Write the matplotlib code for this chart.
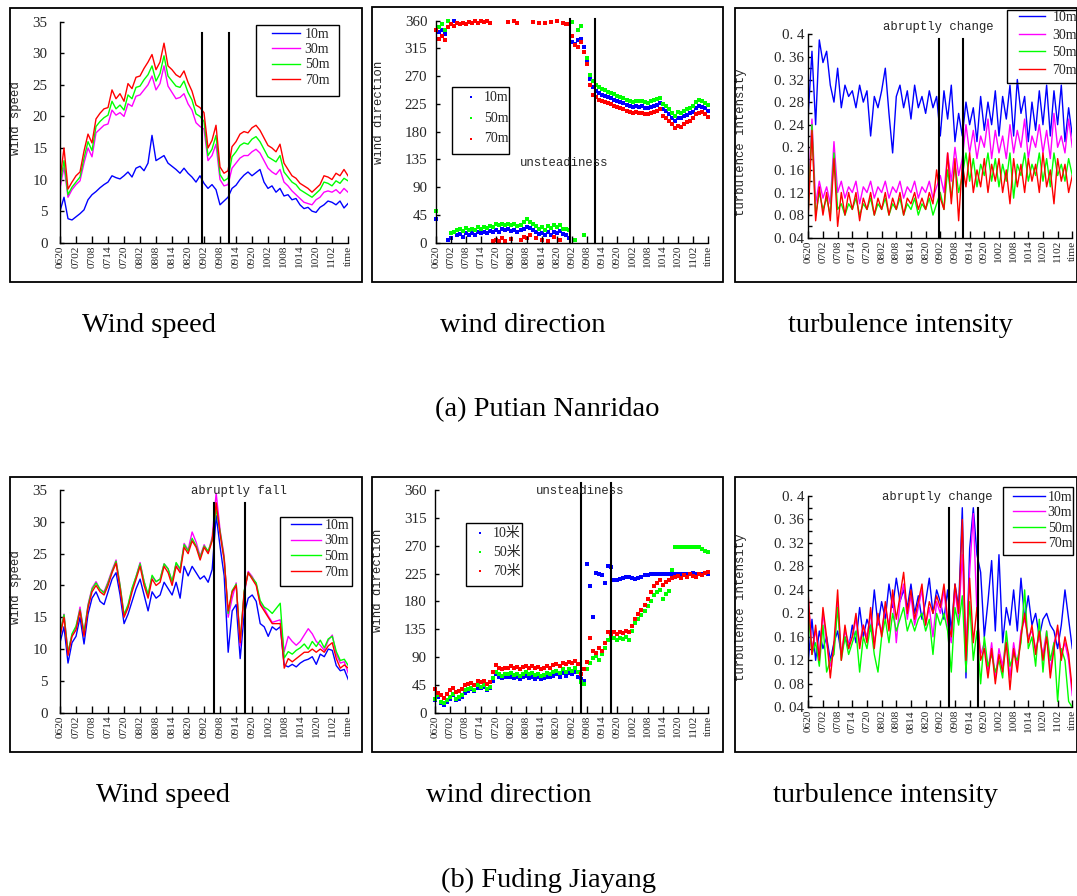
import numpy as np
import matplotlib.pyplot as plt
from matplotlib.patches import Rectangle
from matplotlib.font_manager import FontProperties

W, H = 1077, 896
SERIF = 'Liberation Serif'
MONO = 'Liberation Mono'
INK = '#262626'
C10, C30, C50, C70 = '#0000ff', '#ff00ff', '#00ff00', '#ff0000'

dates = ['0620', '0702', '0708', '0714', '0720', '0802', '0808', '0814', '0820',
         '0902', '0908', '0914', '0920', '1002', '1008', '1014', '1020', '1102', 'time']
heights4 = ['10m', '30m', '50m', '70m']
heights3_a = ['10m', '50m', '70m']
heights3_b = ['10米', '50米', '70米']

# ---- (a) Putian Nanridao ----
ws_a_10 = [5.0, 7.2, 3.8, 3.6, 4.1, 4.6, 5.2, 6.8, 7.6, 8.1,
           8.7, 9.2, 9.6, 10.6, 10.3, 10.1, 10.6, 11.2, 10.4, 11.8,
           12.1, 11.4, 12.6, 17.0, 13.0, 13.4, 13.8, 12.6, 12.1, 11.6,
           11.0, 11.8, 11.0, 10.4, 9.6, 10.6, 9.4, 8.6, 9.2, 8.4,
           6.0, 6.6, 7.2, 8.6, 9.1, 10.0, 10.7, 11.2, 10.6, 11.1,
           11.6, 9.6, 8.6, 9.0, 8.0, 8.6, 7.4, 7.6, 6.8, 7.0,
           6.0, 5.4, 5.6, 5.0, 4.8, 5.6, 6.0, 6.6, 6.4, 6.0,
           6.6, 5.5, 6.2]
ws_a_30 = [8.6, 12.0, 7.2, 8.4, 9.2, 9.8, 12.6, 15.0, 13.6, 17.4,
           18.0, 18.6, 18.8, 21.0, 20.2, 20.6, 20.0, 22.0, 21.6, 23.2,
           23.4, 24.2, 25.0, 26.4, 24.2, 25.2, 28.0, 24.8, 23.8, 22.8,
           23.0, 23.6, 22.0, 21.0, 19.0, 18.4, 18.0, 13.0, 13.8, 15.6,
           10.0, 9.0, 9.2, 11.8, 12.6, 13.4, 13.8, 13.8, 14.4, 14.8,
           14.2, 13.0, 11.8, 11.2, 10.8, 11.6, 9.6, 9.0, 8.2, 7.6,
           7.0, 6.4, 6.2, 6.0, 6.8, 7.2, 8.0, 8.2, 8.0, 8.4,
           7.8, 8.6, 8.0]
ws_a_50 = [9.2, 13.0, 7.6, 8.8, 9.6, 10.4, 13.4, 16.0, 14.6, 18.4,
           19.2, 19.8, 20.2, 22.4, 21.2, 21.8, 21.0, 23.4, 22.8, 24.6,
           24.8, 25.8, 26.6, 28.0, 25.6, 26.8, 29.6, 26.4, 25.6, 24.8,
           24.6, 25.6, 23.8, 22.6, 20.4, 20.0, 19.2, 13.8, 14.8, 17.0,
           10.8, 9.8, 10.2, 13.6, 14.4, 15.4, 15.8, 15.6, 16.4, 16.8,
           16.0, 14.8, 13.6, 13.2, 12.8, 13.8, 11.2, 10.4, 9.6, 9.2,
           8.4, 8.0, 7.6, 7.2, 7.8, 8.4, 9.6, 9.4, 9.0, 9.8,
           9.4, 10.2, 9.8]
ws_a_70 = [10.0, 15.0, 8.5, 9.6, 10.6, 11.2, 14.5, 17.2, 15.8, 19.6,
           20.5, 21.2, 21.4, 24.2, 22.8, 23.6, 22.4, 25.2, 24.4, 26.2,
           26.4, 27.6, 28.6, 29.8, 27.4, 28.6, 31.6, 28.0, 27.4, 26.6,
           26.2, 27.2, 25.4, 24.0, 21.8, 21.4, 20.6, 15.0, 16.2, 18.6,
           12.0, 11.0, 11.4, 15.2, 16.0, 17.2, 17.6, 17.4, 18.2, 18.6,
           17.8, 16.6, 15.4, 15.0, 14.4, 15.6, 12.6, 11.6, 10.6, 10.2,
           9.4, 9.0, 8.6, 8.0, 8.6, 9.2, 10.6, 10.4, 10.0, 11.0,
           10.6, 11.6, 10.6]

wd_a_10 = [38, 342, 345, 338, 5, 8, 360, 12, 14, 10,
           15, 13, 16, 12, 17, 15, 18, 16, 19, 17,
           21, 18, 23, 20, 22, 19, 21, 17, 20, 23,
           26, 24, 20, 18, 14, 16, 12, 17, 13, 18,
           15, 19, 14, 12, 8, 325, 322, 328, 330, 318,
           295, 265, 252, 246, 242, 240, 238, 236, 234, 232,
           230, 228, 226, 224, 222, 220, 222, 220, 221, 219,
           218, 220, 222, 224, 226, 216, 214, 208, 202, 198,
           203, 202, 205, 207, 210, 212, 218, 222, 220, 218,
           214]
wd_a_50 = [52, 350, 355, 345, 360, 15, 18, 20, 22, 19,
           24, 21, 23, 20, 25, 22, 26, 24, 27, 25,
           30, 28, 31, 29, 30, 28, 30, 27, 29, 34,
           38, 33, 30, 27, 23, 26, 21, 27, 24, 28,
           26, 29, 23, 22, 20, 358, 4, 345, 352, 12,
           300, 272, 262, 256, 252, 250, 247, 245, 243, 241,
           238, 236, 234, 232, 230, 228, 230, 229, 230, 228,
           227, 229, 231, 233, 235, 225, 222, 216, 210, 206,
           212, 211, 214, 216, 218, 222, 228, 231, 229, 227,
           224]
wd_a_70 = [345, 330, 335, 328, 350, 355, 352, 356, 354, 357,
           355, 358, 356, 359, 357, 360, 358, 359, 357, 3,
           5, 2, 8, 3, 358, 6, 359, 357, 4, 10,
           7, 12, 358, 8, 356, 5, 357, 2, 358, 9,
           359, 4, 357, 355, 354, 335, 320, 318, 325, 310,
           290, 255, 240, 236, 232, 230, 228, 226, 225, 222,
           220, 218, 216, 214, 212, 210, 212, 210, 211, 209,
           208, 210, 212, 214, 216, 205, 203, 198, 192, 186,
           190, 188, 192, 195, 198, 202, 208, 210, 212, 208,
           204]

ti_a_10 = [0.26, 0.37, 0.24, 0.39, 0.35, 0.37, 0.31, 0.28, 0.34, 0.27,
           0.31, 0.29, 0.30, 0.27, 0.31, 0.28, 0.30, 0.22, 0.29, 0.27,
           0.30, 0.34, 0.26, 0.19, 0.29, 0.31, 0.27, 0.30, 0.25, 0.31,
           0.27, 0.29, 0.26, 0.30, 0.27, 0.29, 0.22, 0.30, 0.25, 0.31,
           0.21, 0.26, 0.22, 0.28, 0.24, 0.27, 0.21, 0.29, 0.23, 0.28,
           0.24, 0.30, 0.22, 0.29, 0.25, 0.31, 0.22, 0.32, 0.26, 0.29,
           0.21, 0.28, 0.23, 0.30, 0.24, 0.31, 0.22, 0.30, 0.24, 0.31,
           0.21, 0.27, 0.22]
ti_a_30 = [0.12, 0.25, 0.10, 0.14, 0.11, 0.13, 0.10, 0.21, 0.12, 0.14,
           0.11, 0.13, 0.12, 0.14, 0.10, 0.13, 0.12, 0.14, 0.11, 0.13,
           0.12, 0.14, 0.11, 0.13, 0.12, 0.14, 0.11, 0.13, 0.12, 0.14,
           0.11, 0.13, 0.12, 0.14, 0.11, 0.13, 0.15, 0.12, 0.19, 0.14,
           0.20, 0.15, 0.18, 0.24, 0.19, 0.23, 0.18, 0.22, 0.20, 0.25,
           0.18, 0.23, 0.19, 0.22, 0.18, 0.24, 0.19, 0.23, 0.20, 0.25,
           0.18, 0.22, 0.20, 0.24, 0.19, 0.23, 0.18, 0.26, 0.20, 0.22,
           0.19, 0.25, 0.20]
ti_a_50 = [0.09, 0.24, 0.08, 0.12, 0.09, 0.11, 0.08, 0.19, 0.09, 0.10,
           0.08, 0.10, 0.09, 0.11, 0.08, 0.10, 0.09, 0.11, 0.08, 0.10,
           0.09, 0.11, 0.08, 0.10, 0.09, 0.11, 0.08, 0.10, 0.09, 0.11,
           0.08, 0.10, 0.09, 0.11, 0.08, 0.10, 0.12, 0.09, 0.16, 0.11,
           0.17, 0.12, 0.15, 0.19, 0.14, 0.18, 0.13, 0.17, 0.15, 0.19,
           0.14, 0.18, 0.13, 0.17, 0.14, 0.19, 0.11, 0.17, 0.15, 0.19,
           0.14, 0.17, 0.15, 0.19, 0.14, 0.18, 0.13, 0.19, 0.15, 0.17,
           0.14, 0.18, 0.15]
ti_a_70 = [0.08, 0.23, 0.07, 0.13, 0.08, 0.12, 0.07, 0.18, 0.06, 0.12,
           0.08, 0.12, 0.09, 0.12, 0.07, 0.11, 0.09, 0.12, 0.08, 0.11,
           0.09, 0.12, 0.08, 0.11, 0.09, 0.12, 0.08, 0.11, 0.10, 0.12,
           0.09, 0.11, 0.09, 0.12, 0.10, 0.16, 0.11, 0.09, 0.19, 0.10,
           0.18, 0.07, 0.17, 0.13, 0.19, 0.12, 0.16, 0.13, 0.18, 0.12,
           0.17, 0.14, 0.18, 0.12, 0.16, 0.10, 0.18, 0.13, 0.17, 0.12,
           0.18, 0.14, 0.17, 0.12, 0.19, 0.13, 0.16, 0.10, 0.18, 0.14,
           0.17, 0.12, 0.15]

# ---- (b) Fuding Jiayang ----
ws_b_10 = [11, 13.5, 7.8, 11, 12, 15, 10.8, 15.5, 18, 19,
           17.5, 17, 19, 21, 22, 18.5, 14, 15.5, 17.5, 19.5,
           21, 18.5, 16, 19, 18, 18.5, 20.5, 19.5, 18.5, 20.5,
           18, 23, 21.5, 23, 22, 21, 21.5, 20.5, 22.5, 31,
           26, 21.5, 9.5, 16, 17, 8.5, 15.5, 18, 18.5, 17.5,
           14, 13.5, 12, 13.5, 13, 13.5, 7.5, 7.2, 7.6, 7.2,
           7.8, 8.2, 8.4, 8.8, 7.6, 9.2, 8.8, 10, 9.8, 7.4,
           6.6, 6.8, 5.2]
ws_b_30 = [12, 15.5, 9.5, 12.2, 13.4, 16.6, 12.4, 17, 19.6, 20.6,
           19.4, 19, 20.6, 22.4, 24, 20, 15.2, 16.8, 19.4, 21.4,
           23.6, 20.6, 18.4, 21.4, 20.6, 21, 23.4, 22.6, 20.6, 23.4,
           22.4, 26.6, 25.6, 28.4, 26.8, 24.6, 26.4, 25.2, 27.6, 34.5,
           28.6, 24.6, 15, 18, 20.4, 10.5, 18.6, 22.2, 21.4, 20.2,
           17.2, 16.4, 15.2, 14.2, 14.4, 14.6, 9.6, 12, 11.2, 10.6,
           11.2, 12.2, 13.2, 12.4, 11.2, 10.6, 9.8, 11.4, 12.2, 9.2,
           7.8, 8, 6.2]
ws_b_50 = [12.4, 15.4, 9.4, 12.4, 13.6, 16.2, 12.6, 16.8, 19.4, 20.4,
           19.4, 18.8, 20.4, 22.2, 23.8, 20, 15.4, 17, 19.6, 21.4,
           23.4, 20.6, 18.6, 21.6, 20.6, 21, 23.4, 22.6, 20.6, 23.6,
           22.6, 26.4, 25.4, 27.4, 26.2, 24.4, 26.2, 25.4, 27.2, 32,
           28.4, 24.2, 15.6, 19.2, 20.2, 11.2, 19.2, 22, 21.2, 20.4,
           17.6, 16.6, 16.2, 15.6, 16.4, 17.2, 8.6, 9.6, 9.2, 9.8,
           10.2, 10.8, 10, 11.2, 10.4, 11.4, 10.2, 11.6, 12, 9.6,
           8.2, 8.4, 7.4]
ws_b_70 = [12, 15, 9, 12, 13, 16, 12, 16.5, 19, 20,
           19, 18.5, 20, 22, 23.5, 19.5, 15, 16.5, 19, 21,
           23, 20, 18, 21, 20, 20.5, 23, 22, 20, 23,
           22, 26, 25, 27, 26, 24, 26, 25, 27, 33,
           28, 24, 16, 19, 20, 11, 19, 22, 21, 20,
           17, 16, 15, 14, 14, 14, 7, 8.5, 8, 8.5,
           9, 9.5, 9.5, 10, 9.5, 10, 9.5, 10.5, 11, 8.5,
           7, 7.5, 7]

wd_b_10 = [20, 25, 15, 12, 18, 22, 28, 20, 22, 25,
           32, 35, 38, 35, 40, 40, 42, 36, 40, 52,
           62, 58, 56, 58, 57, 58, 56, 58, 55, 57,
           59, 56, 58, 55, 57, 54, 56, 58, 57, 60,
           62, 58, 64, 60, 64, 62, 66, 58, 55, 52,
           240, 205, 155, 226, 225, 222, 210, 237, 236, 215,
           214, 216, 217, 219, 220, 218, 216, 218, 220, 222,
           223, 224, 225, 224, 225, 224, 225, 224, 225, 224,
           225, 224, 225, 224, 225, 226, 225, 224, 225, 226,
           225]
wd_b_50 = [22, 28, 18, 15, 20, 25, 30, 22, 25, 28,
           36, 38, 40, 37, 44, 42, 44, 38, 42, 56,
           66, 62, 60, 63, 62, 64, 61, 63, 60, 63,
           65, 62, 64, 61, 63, 59, 61, 64, 62, 66,
           68, 64, 70, 66, 70, 68, 72, 66, 50, 46,
           70, 80, 88, 92, 85, 95, 105, 118, 122, 120,
           118, 121, 119, 122, 118, 132, 145, 152, 158, 165,
           172, 180, 190, 195, 198, 184, 192, 196, 230, 268,
           268, 268, 268, 268, 268, 268, 268, 268, 265, 262,
           260]
wd_b_70 = [38, 32, 28, 24, 30, 36, 40, 33, 35, 38,
           44, 46, 48, 45, 52, 50, 52, 47, 50, 66,
           77, 72, 70, 73, 72, 75, 72, 74, 71, 74,
           76, 73, 75, 72, 74, 70, 72, 75, 73, 77,
           79, 76, 80, 78, 82, 80, 84, 78, 62, 70,
           82, 120, 100, 96, 104, 100, 112, 130, 128, 130,
           128, 131, 129, 132, 130, 140, 152, 160, 166, 174,
           184, 195, 205, 210, 214, 206, 212, 215, 218, 219,
           221, 218, 222, 220, 224, 221, 219, 224, 222, 226,
           228]

ti_b_10 = [0.12, 0.19, 0.12, 0.17, 0.14, 0.16, 0.12, 0.15, 0.17, 0.13,
           0.16, 0.14, 0.18, 0.15, 0.21, 0.16, 0.19, 0.17, 0.24, 0.18,
           0.22, 0.19, 0.25, 0.21, 0.26, 0.22, 0.24, 0.21, 0.25, 0.20,
           0.23, 0.19, 0.22, 0.26, 0.20, 0.24, 0.22, 0.19, 0.24, 0.17,
           0.25, 0.21, 0.38, 0.09, 0.31, 0.38, 0.30, 0.27, 0.16, 0.22,
           0.29, 0.17, 0.30, 0.15, 0.21, 0.18, 0.24, 0.17, 0.26, 0.19,
           0.23, 0.18, 0.20, 0.16, 0.19, 0.20, 0.18, 0.17, 0.14, 0.18,
           0.24, 0.19, 0.14]
ti_b_30 = [0.22, 0.14, 0.17, 0.13, 0.20, 0.15, 0.11, 0.14, 0.22, 0.13,
           0.17, 0.15, 0.16, 0.19, 0.15, 0.18, 0.16, 0.20, 0.15, 0.19,
           0.17, 0.21, 0.18, 0.23, 0.15, 0.22, 0.25, 0.19, 0.23, 0.18,
           0.21, 0.24, 0.18, 0.21, 0.16, 0.22, 0.20, 0.24, 0.18, 0.15,
           0.24, 0.19, 0.30, 0.13, 0.27, 0.37, 0.20, 0.13, 0.15, 0.10,
           0.15, 0.09, 0.14, 0.11, 0.16, 0.09, 0.15, 0.11, 0.17, 0.19,
           0.16, 0.17, 0.14, 0.16, 0.13, 0.17, 0.10, 0.15, 0.17, 0.13,
           0.15, 0.12, 0.06]
ti_b_50 = [0.20, 0.13, 0.15, 0.11, 0.18, 0.10, 0.12, 0.13, 0.21, 0.12,
           0.16, 0.13, 0.15, 0.17, 0.10, 0.16, 0.14, 0.18, 0.13, 0.10,
           0.16, 0.19, 0.15, 0.20, 0.17, 0.19, 0.21, 0.17, 0.19, 0.17,
           0.19, 0.20, 0.17, 0.19, 0.13, 0.20, 0.18, 0.20, 0.17, 0.10,
           0.21, 0.18, 0.23, 0.10, 0.22, 0.12, 0.17, 0.08, 0.16, 0.11,
           0.13, 0.10, 0.12, 0.09, 0.17, 0.11, 0.13, 0.12, 0.15, 0.24,
           0.14, 0.16, 0.11, 0.19, 0.10, 0.17, 0.12, 0.15, 0.05, 0.14,
           0.12, 0.05, 0.04]
ti_b_70 = [0.23, 0.13, 0.18, 0.12, 0.21, 0.16, 0.09, 0.15, 0.24, 0.12,
           0.18, 0.14, 0.16, 0.20, 0.14, 0.18, 0.15, 0.21, 0.14, 0.20,
           0.16, 0.22, 0.17, 0.24, 0.19, 0.23, 0.27, 0.20, 0.24, 0.19,
           0.22, 0.25, 0.18, 0.22, 0.20, 0.23, 0.21, 0.25, 0.19, 0.16,
           0.25, 0.20, 0.36, 0.12, 0.26, 0.15, 0.21, 0.12, 0.14, 0.09,
           0.14, 0.08, 0.13, 0.10, 0.15, 0.07, 0.14, 0.10, 0.16, 0.20,
           0.15, 0.18, 0.13, 0.17, 0.12, 0.16, 0.09, 0.14, 0.18, 0.12,
           0.16, 0.13, 0.07]

# dates (in tick units) where the regime changes
events_a = [8.9, 10.55]
events_b = [9.62, 11.57]

x73 = np.linspace(0, 18, 73)
x91 = np.linspace(0, 18, 91)


def fx(px):
    return px / W


def fy(py):
    return 1 - py / H


fig = plt.figure(figsize=(W / 100, H / 100), dpi=100)


def frame(x0, y0, x1, y1, lw=1.3):
    fig.add_artist(Rectangle((fx(x0), fy(y1)), (x1 - x0) / W, (y1 - y0) / H,
                             transform=fig.transFigure, fill=False,
                             ec='black', lw=lw))


def panel(l, t, r, b, ylim, yticks, ylabels, ylabel, lab_xy, ypad, minor=None):
    ax = fig.add_axes([fx(l), fy(b), (r - l) / W, (b - t) / H])
    ax.patch.set_alpha(0)
    for s in ('top', 'right'):
        ax.spines[s].set_visible(False)
    for s in ('left', 'bottom'):
        ax.spines[s].set_linewidth(1.0)
    ax.set_xlim(0, 18)
    ax.set_ylim(*ylim)
    ax.set_xticks(range(len(dates)))
    ax.set_xticklabels(dates, rotation=90, fontsize=8.2, family=SERIF, color=INK)
    ax.set_yticks(yticks)
    ax.set_yticklabels(ylabels, fontsize=10.8, family=SERIF, color=INK)
    if minor is not None:
        ax.set_yticks(minor, minor=True)
    ax.tick_params(axis='x', direction='in', length=5, width=1, pad=2)
    ax.tick_params(axis='y', which='both', direction='in', length=3, width=1, pad=ypad)
    ax.set_ylabel(ylabel, family=MONO, fontsize=8.8, color=INK)
    ax.yaxis.set_label_coords(*lab_xy)
    return ax


def legend_at(ax, handles, labels, x, y, spacing, hlen, tpad, size=10, mscale=1.0):
    leg = ax.legend(handles, labels, loc='upper left',
                    bbox_to_anchor=(fx(x), fy(y)), bbox_transform=fig.transFigure,
                    frameon=False, borderpad=0, borderaxespad=0,
                    labelspacing=spacing, handlelength=hlen, handletextpad=tpad,
                    scatterpoints=1, markerscale=mscale,
                    prop=FontProperties(family=[SERIF, 'Noto Sans CJK SC'], size=size))
    for t in leg.get_texts():
        t.set_color(INK)
    return leg


def events(ax, xs, y0, y1):
    for xe in xs:
        ax.plot([xe, xe], [y0, y1], color='black', lw=1.5, clip_on=False, zorder=5)


def lines(ax, series, x):
    hs = []
    for vals, c in zip(series, (C10, C30, C50, C70)):
        h, = ax.plot(x, vals, color=c, lw=1.0)
        hs.append(h)
    return hs


def dots(ax, series, x):
    hs = []
    for vals, c in zip(series, (C10, C50, C70)):
        hs.append(ax.scatter(x, vals, s=6, marker='s', color=c,
                             linewidths=0, clip_on=False))
    return hs


speed_ticks = list(range(0, 36, 5))
dir_ticks = list(range(0, 361, 45))
ti_ticks = [0.04 * k for k in range(1, 11)]
ti_labels = ['0. 04', '0. 08', '0. 12', '0. 16', '0. 2', '0. 24', '0. 28',
             '0. 32', '0. 36', '0. 4']
ti_minor = [0.02 + 0.04 * k for k in range(1, 10)]

# ---------- row (a) ----------
frame(9.5, 8.5, 361.5, 281.5)
frame(372, 7.5, 723, 282)
frame(735, 8.5, 1076.5, 282)

ax = panel(60, 21.7, 348, 242.7, (0, 35), speed_ticks, [str(v) for v in speed_ticks],
           'wind speed', (-0.133, 0.563), 9)
hs = lines(ax, [ws_a_10, ws_a_30, ws_a_50, ws_a_70], x73)
events(ax, events_a, 0, 33.2)
frame(256, 25, 339, 95.7, lw=1.0)
legend_at(ax, hs, heights4, 272, 27.5, 0.18, 2.0, 0.35)

ax = panel(435.7, 20.7, 708.3, 242.7, (0, 360), dir_ticks, [str(v) for v in dir_ticks],
           'wind direction', (-0.186, 0.586), 6)
hs = dots(ax, [wd_a_10, wd_a_50, wd_a_70], x91)
events(ax, events_a, 0, 362)
frame(452, 86.7, 509, 154, lw=1.0)
legend_at(ax, hs, heights3_a, 463, 91, 0.55, 1.1, 0.4, mscale=0.55)

ax = panel(808.3, 34.3, 1072.3, 237.7, (0.04, 0.4), ti_ticks, ti_labels,
           'turbulence intensity', (-0.231, 0.469), 3, minor=ti_minor)
hs = lines(ax, [ti_a_10, ti_a_30, ti_a_50, ti_a_70], x73)
events(ax, events_a, 0.04, 0.391)
frame(1006.7, 10, 1095, 82.7, lw=1.0)
legend_at(ax, hs, heights4, 1019, 11, 0.33, 1.85, 0.55)

# ---------- row (b) ----------
frame(10, 477.5, 362, 752)
frame(372, 477.5, 723, 752)
frame(735, 477.5, 1076.5, 752)

ax = panel(60, 490, 348.3, 712.7, (0, 35), speed_ticks, [str(v) for v in speed_ticks],
           'wind speed', (-0.133, 0.562), 9)
hs = lines(ax, [ws_b_10, ws_b_30, ws_b_50, ws_b_70], x73)
events(ax, events_b, 0, 32.9)
frame(280, 516.7, 351.7, 586, lw=1.0)
legend_at(ax, hs, heights4, 291, 519, 0.18, 2.15, 0.25)

ax = panel(435, 490, 708.3, 712.7, (0, 360), dir_ticks, [str(v) for v in dir_ticks],
           'wind direction', (-0.186, 0.594), 6)
hs = dots(ax, [wd_b_10, wd_b_50, wd_b_70], x91)
events(ax, events_b, 0, 371)
frame(466, 523.3, 522.3, 586, lw=1.0)
legend_at(ax, hs, heights3_b, 472, 527, 0.42, 1.1, 0.4, mscale=0.55)

ax = panel(808.3, 496, 1072.3, 707.3, (0.04, 0.4), ti_ticks, ti_labels,
           'turbulence intensity', (-0.231, 0.472), 3, minor=ti_minor)
hs = lines(ax, [ti_b_10, ti_b_30, ti_b_50, ti_b_70], x73)
events(ax, events_b, 0.04, 0.38)
frame(1003.3, 486.7, 1073.3, 555, lw=1.0)
legend_at(ax, hs, heights4, 1013, 490.5, 0.18, 2.3, 0.2)

# ---------- notes and captions ----------
notes = [('unsteadiness', 564, 162.7), ('abruptly change', 938, 27.3),
         ('abruptly fall', 239, 490.7), ('unsteadiness', 580, 490.7),
         ('abruptly change', 937, 496.7)]
for s, cx, cy in notes:
    fig.text(fx(cx), fy(cy), s, ha='center', va='center', family=MONO,
             fontsize=8.8, color=INK)

captions = [('Wind speed', 149.5, 326), ('wind direction', 522.5, 326),
            ('turbulence intensity', 900.5, 326), ('(a) Putian Nanridao', 547.5, 410),
            ('Wind speed', 163.5, 796), ('wind direction', 508.5, 796),
            ('turbulence intensity', 885.5, 796), ('(b) Fuding Jiayang', 548.5, 880)]
for s, cx, cy in captions:
    fig.text(fx(cx), fy(cy), s, ha='center', va='center', family=SERIF,
             fontsize=20.5, color='black')

fig.savefig('out.png', dpi=100)
